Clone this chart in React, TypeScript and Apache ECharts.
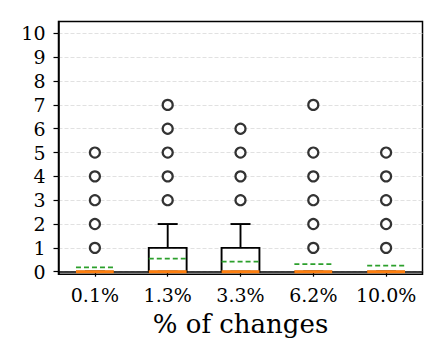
import React, { useEffect, useRef } from "react";
import * as echarts from "echarts";

const categories = ["0.1%", "1.3%", "3.3%", "6.2%", "10.0%"];
const whiskerLow = [0, 0, 0, 0, 0];
const q1 = [0, 0, 0, 0, 0];
const medians = [0, 0, 0, 0, 0];
const q3 = [0, 1, 1, 0, 0];
const whiskerHigh = [0, 2, 2, 0, 0];
const means = [0.18, 0.55, 0.42, 0.32, 0.25];
const outliers = [
  [1, 2, 3, 4, 5],
  [3, 4, 5, 6, 7],
  [3, 4, 5, 6],
  [1, 2, 3, 4, 5, 7],
  [1, 2, 3, 4, 5],
];
const yTicks = [0, 1, 2, 3, 4, 5, 6, 7, 8, 9, 10];

const FONT = "DejaVu Serif";

export default function App() {
  const ref = useRef<HTMLDivElement>(null);
  useEffect(() => {
    document.body.style.margin = "0";
    if (!ref.current) return;
    const chart = echarts.init(ref.current, null, { renderer: "svg" });
    const boxData = categories.map((_, i) => [
      i,
      whiskerLow[i],
      q1[i],
      medians[i],
      q3[i],
      whiskerHigh[i],
      means[i],
    ]);
    const outlierData: number[][] = [];
    outliers.forEach((arr, i) => arr.forEach((v) => outlierData.push([i, v])));

    const isTick = (v: number) => yTicks.includes(Math.round(v * 1000) / 1000);

    chart.setOption({
      animation: false,
      grid: {
        left: 58.5,
        right: 21.5,
        top: 21.5,
        bottom: 85.7,
        show: true,
        borderColor: "#000",
        borderWidth: 1.5,
        backgroundColor: "transparent",
      },
      xAxis: {
        type: "category",
        data: categories,
        boundaryGap: true,
        name: "% of changes",
        nameLocation: "middle",
        nameGap: 37,
        nameTextStyle: { fontFamily: FONT, fontSize: 26, color: "#000" },
        axisLine: { show: true, lineStyle: { color: "#000", width: 1.5 } },
        axisTick: {
          show: true,
          alignWithLabel: true,
          length: 5,
          lineStyle: { color: "#000", width: 1.2 },
        },
        axisLabel: {
          fontFamily: FONT,
          fontSize: 19,
          color: "#000",
          margin: 11,
          interval: 0,
        },
        splitLine: { show: false },
      },
      yAxis: {
        type: "value",
        min: -0.11,
        max: 10.5,
        splitNumber: 10,
        axisLine: { show: true, lineStyle: { color: "#000", width: 1.5 } },
        axisTick: {
          show: true,
          length: 5,
          lineStyle: { color: "#000", width: 1.2 },
        },
        axisLabel: {
          fontFamily: FONT,
          fontSize: 19,
          color: "#000",
          margin: 13,
          showMinLabel: false,
          showMaxLabel: false,
          formatter: (v: number) => (isTick(v) ? String(Math.round(v)) : ""),
        },
        splitLine: {
          show: true,
          showMinLine: false,
          showMaxLine: false,
          lineStyle: { color: "#d9d9d9", type: [4, 2], width: 0.8 },
        },
      },
      series: [
        {
          type: "custom",
          data: boxData,
          clip: false,
          z: 2,
          renderItem: (params: any, api: any) => {
            const i = api.value(0);
            const band = api.size([1, 0])[0];
            const cx = api.coord([i, 0])[0];
            const bw = band * 0.52;
            const cw = band * 0.275;
            const yLow = api.coord([i, api.value(1)])[1];
            const yQ1 = api.coord([i, api.value(2)])[1];
            const yMed = api.coord([i, api.value(3)])[1];
            const yQ3 = api.coord([i, api.value(4)])[1];
            const yHigh = api.coord([i, api.value(5)])[1];
            const yMean = api.coord([i, api.value(6)])[1];
            const black = { stroke: "#000", lineWidth: 1.9, fill: "none" };
            return {
              type: "group",
              children: [
                {
                  type: "line",
                  shape: { x1: cx, y1: yQ3, x2: cx, y2: yHigh },
                  style: black,
                },
                {
                  type: "line",
                  shape: { x1: cx, y1: yQ1, x2: cx, y2: yLow },
                  style: black,
                },
                {
                  type: "line",
                  shape: { x1: cx - cw / 2, y1: yHigh, x2: cx + cw / 2, y2: yHigh },
                  style: black,
                },
                {
                  type: "line",
                  shape: { x1: cx - cw / 2, y1: yLow, x2: cx + cw / 2, y2: yLow },
                  style: black,
                },
                {
                  type: "rect",
                  shape: { x: cx - bw / 2, y: yQ3, width: bw, height: yQ1 - yQ3 },
                  style: black,
                },
                {
                  type: "line",
                  shape: { x1: cx - bw / 2, y1: yMed, x2: cx + bw / 2, y2: yMed },
                  style: { stroke: "#ff7f0e", lineWidth: 3 },
                },
                {
                  type: "line",
                  shape: { x1: cx - bw / 2, y1: yMean, x2: cx + bw / 2, y2: yMean },
                  style: { stroke: "#2ca02c", lineWidth: 1.8, lineDash: [5, 3] },
                },
              ],
            };
          },
        },
        {
          type: "scatter",
          data: outlierData,
          symbol: "circle",
          symbolSize: 10,
          z: 3,
          itemStyle: { color: "#fff", borderColor: "#000", borderWidth: 2.2 },
        },
      ],
    });
    return () => chart.dispose();
  }, []);
  return <div ref={ref} style={{ width: 444, height: 360 }} />;
}
